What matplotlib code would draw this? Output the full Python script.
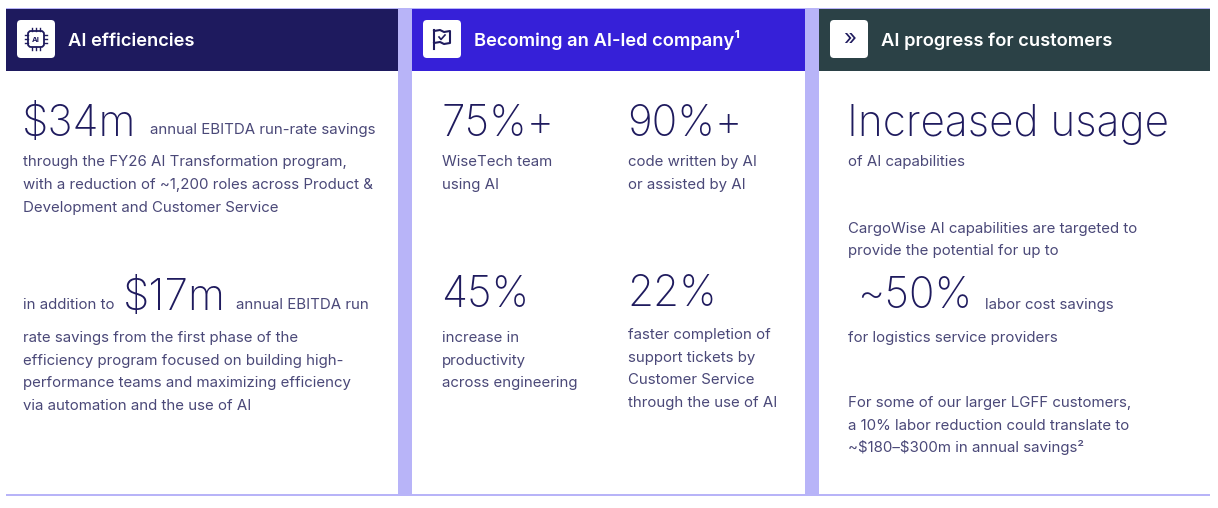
import matplotlib
matplotlib.use("Agg")
import matplotlib.pyplot as plt
from matplotlib.patches import Rectangle, FancyBboxPatch
from matplotlib.lines import Line2D

# ---------------- data ----------------
header_titles = ["AI efficiencies", "Becoming an AI-led company\u00b9", "AI progress for customers"]
header_colors = ["#1e1a5e", "#3620d8", "#2b4146"]

p1_big = ["$34m", "$17m"]
p1_lead = ["annual EBITDA run-rate savings", "annual EBITDA run"]
p1_prefix2 = "in addition to"
p1_body1 = ["through the FY26 AI Transformation program,",
            "with a reduction of ~1,200 roles across Product &",
            "Development and Customer Service"]
p1_body2 = ["rate savings from the first phase of the",
            "efficiency program focused on building high-",
            "performance teams and maximizing efficiency",
            "via automation and the use of AI"]

p2_stats = ["75%+", "90%+", "45%", "22%"]
p2_captions = [["WiseTech team", "using AI"],
               ["code written by AI", "or assisted by AI"],
               ["increase in", "productivity", "across engineering"],
               ["faster completion of", "support tickets by", "Customer Service", "through the use of AI"]]

p3_big = ["Increased usage", "~50%"]
p3_sub1 = "of AI capabilities"
p3_body1 = ["CargoWise AI capabilities are targeted to", "provide the potential for up to"]
p3_lead2 = "labor cost savings"
p3_sub2 = "for logistics service providers"
p3_body2 = ["For some of our larger LGFF customers,",
            "a 10% labor reduction could translate to",
            "~$180\u2013$300m in annual savings\u00b2"]

# ---------------- style ----------------
NAVY = "#1f1b5e"
BODY = "#4a4878"
LAV = "#b8b4f8"
FAM = ["Inter", "DejaVu Sans"]

fig = plt.figure(figsize=(12.18, 5.08), dpi=100)
ax = fig.add_axes([0, 0, 1, 1])
ax.set_xlim(0, 1218)
ax.set_ylim(508, 0)
ax.axis("off")

# frame lines
ax.add_patch(Rectangle((6, 7.5), 1204, 1.5, color=LAV, lw=0))
ax.add_patch(Rectangle((6, 494), 1204, 2, color=LAV, lw=0))

panels_x = [(6, 398), (412, 805), (819, 1210)]
for (x0, x1), col, title in zip(panels_x, header_colors, header_titles):
    ax.add_patch(Rectangle((x0, 9), x1 - x0, 62, color=col, lw=0))
    ax.add_patch(FancyBboxPatch((x0 + 11, 20), 38, 38, boxstyle="round,pad=0,rounding_size=4",
                                fc="white", ec="none"))
    ax.text(x0 + 62, 46, title, color="white", fontsize=13.2, fontweight="semibold",
            family=FAM, va="baseline", ha="left", parse_math=False)

# separators
for sx in (398, 805):
    ax.add_patch(Rectangle((sx, 9), 14, 486, color=LAV, lw=0))

# icons
# chip
cx, cy = 36, 39
ax.add_patch(FancyBboxPatch((cx - 8, cy - 8), 16, 16, boxstyle="round,pad=0,rounding_size=3",
                            fc="white", ec=NAVY, lw=1.3))
ax.text(cx, cy + 0.5, "AI", color=NAVY, fontsize=5.5, fontweight="bold", family=FAM,
        ha="center", va="center")
for k in (-4, 0, 4):
    ax.add_line(Line2D([cx + k, cx + k], [cy - 11, cy - 8], color=NAVY, lw=1))
    ax.add_line(Line2D([cx + k, cx + k], [cy + 8, cy + 11], color=NAVY, lw=1))
    ax.add_line(Line2D([cx - 11, cx - 8], [cy + k, cy + k], color=NAVY, lw=1))
    ax.add_line(Line2D([cx + 8, cx + 11], [cy + k, cy + k], color=NAVY, lw=1))
# flag
fx, fy = 442, 39
ax.add_line(Line2D([fx - 8, fx - 8], [fy - 9, fy + 10], color=NAVY, lw=1.5))
ax.add_line(Line2D([fx - 8, fx - 2, fx + 2, fx + 8, fx + 8, fx + 2, fx - 2, fx - 8],
                   [fy - 8, fy - 9, fy - 7, fy - 8, fy + 4, fy + 5, fy + 3, fy + 4],
                   color=NAVY, lw=1.5))
ax.add_line(Line2D([fx - 3, fx - 1, fx + 3], [fy - 2, fy + 0.5, fy - 4], color=NAVY, lw=1.2))
# chevrons
ax.text(850, 39, "\u00bb", color=NAVY, fontsize=16, family=FAM, ha="center", va="center")

BIG = 30.5
TXT = 10.8

def t(x, y, s, size=TXT, color=BODY, weight="normal"):
    ax.text(x, y, s, fontsize=size, color=color, family=FAM, fontweight=weight,
            va="baseline", ha="left", parse_math=False)

BW = "light"
# panel 1
t(22, 136, p1_big[0], BIG, NAVY, BW)
t(150, 134, p1_lead[0])
for i, s in enumerate(p1_body1):
    t(23, 166 + i * 23, s)
t(23, 309, p1_prefix2)
t(123, 310, p1_big[1], BIG, NAVY, BW)
t(236, 309, p1_lead[1])
for i, s in enumerate(p1_body2):
    t(23, 342 + i * 22.7, s)

# panel 2
pos2 = [(441, 136), (627, 136), (441, 307), (627, 306)]
cap_start = [166, 166, 342, 339]
for (x, y), s, caps, cy0 in zip(pos2, p2_stats, p2_captions, cap_start):
    t(x, y, s, BIG, NAVY, BW)
    for i, c in enumerate(caps):
        t(x + 1, cy0 + i * 22.7, c)

# panel 3
t(847, 136, p3_big[0], BIG, NAVY, BW)
t(848, 166, p3_sub1)
for i, s in enumerate(p3_body1):
    t(848, 233 + i * 22.5, s)
t(857, 308, p3_big[1], BIG, NAVY, BW)
t(985, 309, p3_lead2)
t(848, 342, p3_sub2)
for i, s in enumerate(p3_body2):
    t(848, 407 + i * 22.5, s)

fig.savefig("out.png", dpi=100, facecolor="white")
